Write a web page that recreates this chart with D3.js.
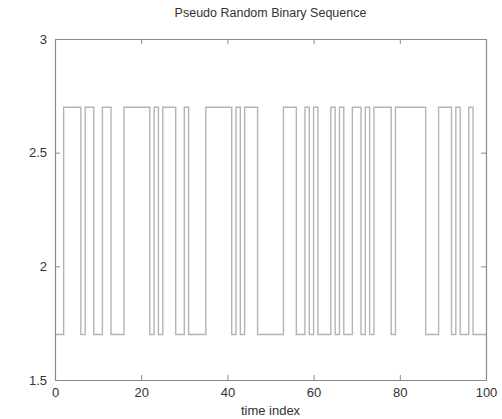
<!DOCTYPE html>
<html>
<head>
<meta charset="utf-8">
<script src="https://cdn.jsdelivr.net/npm/d3@7"></script>
<style>
  html, body { margin: 0; padding: 0; background: #fff; }
  svg { display: block; }
  text { font-family: "Liberation Sans", Arial, sans-serif; fill: #333; }
</style>
</head>
<body>
<div id="chart"></div>
<script>
// ---- data ----
const title = "Pseudo Random Binary Sequence";
const xLabel = "time index";
const xTicks = [0, 20, 40, 60, 80, 100];
const yTicks = [1.5, 2, 2.5, 3];
const lowLevel = 1.7;
const highLevel = 2.7;
// times at which the sequence switches level (starts at low level at t=0)
const switchTimes = [2, 6, 7, 9, 11, 13, 16, 22, 23, 24, 25, 28, 30, 31,
  35, 41, 42, 43, 44, 47, 53, 56, 58, 59, 60, 61, 64, 65, 66, 67, 69,
  71, 72, 73, 74, 78, 79, 86, 89, 92, 93, 94, 96, 97];
const tEnd = 100;

// ---- layout ----
const W = 502, H = 419;
const m = { left: 55, right: 16, top: 39, bottom: 39 };
const iw = W - m.left - m.right, ih = H - m.top - m.bottom;

const svg = d3.select("#chart").append("svg").attr("width", W).attr("height", H);
const g = svg.append("g").attr("transform", `translate(${m.left},${m.top})`);

const x = d3.scaleLinear().domain([0, 100]).range([0, iw]);
const y = d3.scaleLinear().domain([1.5, 3]).range([ih, 0]);

// build stair points
const pts = [];
let level = lowLevel;
pts.push([0, level]);
switchTimes.forEach(t => {
  level = level === lowLevel ? highLevel : lowLevel;
  pts.push([t, level]);
});
pts.push([tEnd, level]);

const line = d3.line().x(d => x(d[0])).y(d => y(d[1])).curve(d3.curveStepAfter);
g.append("path").datum(pts)
  .attr("d", line)
  .attr("fill", "none")
  .attr("stroke", "#b4b4b4")
  .attr("stroke-width", 1.4);

// axes (MATLAB style, ticks inside, box)
const axColor = "#8a8a8a";
const tl = 5;
const xb = d3.axisBottom(x).tickValues(xTicks).tickSizeInner(-tl).tickSizeOuter(0).tickPadding(8);
const xt = d3.axisTop(x).tickValues(xTicks).tickSizeInner(-tl).tickSizeOuter(0).tickFormat("");
const yl = d3.axisLeft(y).tickValues(yTicks).tickSizeInner(-tl).tickSizeOuter(0).tickPadding(8).tickFormat(d3.format("~g"));
const yr = d3.axisRight(y).tickValues(yTicks).tickSizeInner(-tl).tickSizeOuter(0).tickFormat("");

function style(sel) {
  sel.select(".domain").attr("stroke", axColor).attr("stroke-width", 1.2);
  sel.selectAll(".tick line").attr("stroke", axColor);
  sel.selectAll(".tick text").attr("font-size", 13).attr("fill", "#333")
     .attr("font-family", "'Liberation Sans', Arial, sans-serif");
}
g.append("g").attr("transform", `translate(0,${ih})`).call(xb).call(style);
g.append("g").call(xt).call(style);
g.append("g").call(yl).call(style);
g.append("g").attr("transform", `translate(${iw},0)`).call(yr).call(style);

svg.append("text").attr("x", m.left + iw / 2).attr("y", 17)
  .attr("text-anchor", "middle").attr("font-size", 12.5).text(title);
svg.append("text").attr("x", m.left + iw / 2).attr("y", H - 4)
  .attr("text-anchor", "middle").attr("font-size", 13).text(xLabel);
</script>
</body>
</html>
